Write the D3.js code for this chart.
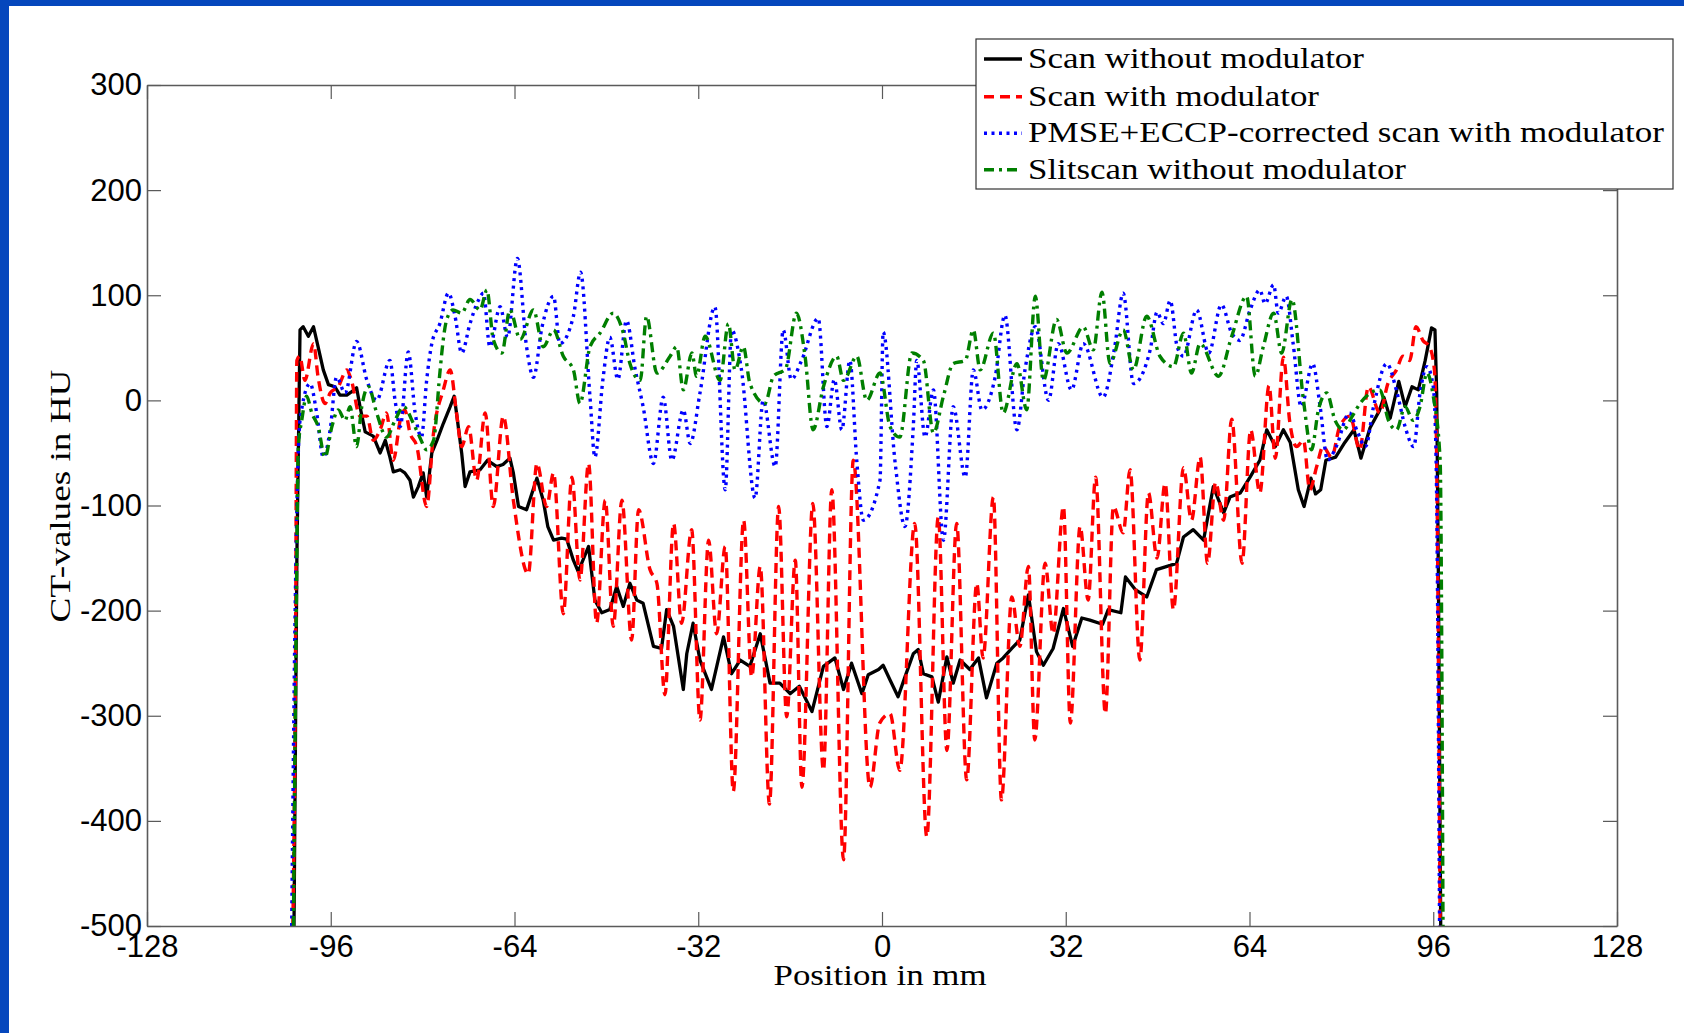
<!DOCTYPE html>
<html>
<head>
<meta charset="utf-8">
<script src="https://cdn.jsdelivr.net/npm/d3@7"></script>
<style>
html,body{margin:0;padding:0;background:#fff;}
svg{display:block;}
</style>
</head>
<body>
<svg id="chart" width="1684" height="1033"></svg>
<script>
// ---------------- DATA ----------------
const xTicks = [-128, -96, -64, -32, 0, 32, 64, 96, 128];
const yTicks = [300, 200, 100, 0, -100, -200, -300, -400, -500];
const seriesNames = ["Scan without modulator", "Scan with modulator", "PMSE+ECCP-corrected scan with modulator", "Slitscan without modulator"];

// [position mm, CT value HU]
const scanNoMod = [[-102.4,-500],[-101.9,-150],[-101.35,67],[-100.8,70],[-99.9,61],[-99.0,70],[-98.2,51],[-97.3,29],[-96.4,15],[-95.3,13],[-94.4,5],[-93.2,5],[-92.4,8],[-91.5,12],[-90.9,-6],[-90.0,-30],[-88.6,-34],[-87.4,-50],[-86.5,-38],[-85.7,-54],[-85.1,-68],[-83.9,-66],[-83.1,-69],[-82.2,-76],[-81.6,-92],[-80.75,-82],[-79.9,-69],[-79.3,-92],[-78.4,-50],[-77.5,-38],[-76.4,-22],[-75.2,-6],[-74.5,4],[-74.1,-12],[-73.2,-50],[-72.6,-82],[-71.75,-68],[-70.0,-66],[-68.7,-57],[-67.1,-63],[-66.0,-61],[-64.8,-55],[-64.2,-69],[-63.3,-101],[-61.9,-104],[-60.1,-74],[-59.0,-95],[-58.2,-120],[-57.2,-133],[-55.8,-131],[-54.9,-132],[-53.75,-152],[-52.9,-163],[-51.1,-139],[-50.0,-190],[-48.8,-202],[-47.4,-199],[-46.2,-177],[-45.05,-196],[-43.9,-174],[-42.7,-190],[-41.6,-193],[-39.8,-234],[-38.4,-236],[-37.5,-199],[-36.3,-215],[-34.6,-275],[-34.0,-241],[-32.9,-212],[-31.7,-247],[-29.7,-275],[-27.6,-225],[-26.2,-260],[-24.7,-247],[-23.0,-253],[-21.2,-222],[-19.5,-269],[-17.8,-269],[-16.0,-279],[-14.4,-272],[-12.2,-296],[-10.2,-253],[-8.2,-245],[-6.7,-275],[-5.3,-250],[-3.5,-279],[-2.4,-261],[-0.6,-256],[0.2,-252],[1.4,-266],[2.8,-282],[4.0,-263],[5.45,-241],[6.3,-237],[7.2,-260],[8.7,-263],[9.8,-287],[11.3,-244],[12.4,-269],[13.6,-247],[15.3,-256],[16.8,-245],[18.2,-283],[20.0,-250],[21.1,-245],[22.6,-236],[24.0,-228],[25.5,-185],[26.9,-239],[28.1,-252],[29.8,-236],[31.6,-198],[33.2,-234],[34.8,-207],[36.2,-209],[38.4,-213],[39.4,-199],[41.6,-202],[42.4,-168],[44.1,-180],[46.1,-187],[47.8,-161],[50.2,-157],[51.3,-155],[52.5,-130],[54.2,-123],[56.0,-133],[57.7,-82],[59.5,-107],[60.6,-92],[62.4,-88],[64.1,-73],[65.8,-57],[67.0,-28],[68.5,-44],[69.9,-28],[71.1,-40],[72.5,-85],[73.5,-101],[74.7,-74],[75.5,-89],[76.4,-85],[77.3,-57],[79.0,-54],[80.6,-40],[82.2,-28],[83.4,-55],[85.0,-26],[86.6,-10],[87.4,3],[88.5,-17],[90.0,18],[91.1,-6],[92.3,13],[93.4,10],[94.6,38],[95.7,69],[96.3,67],[96.6,7],[96.9,-170],[97.3,-500]];

const scanMod = [[-102.6,-500],[-102.1,-200],[-101.9,38],[-101.4,42],[-100.5,19],[-99.0,54],[-98.2,22],[-97.0,-3],[-96.1,7],[-94.7,13],[-93.2,29],[-92.4,19],[-90.9,-15],[-89.7,-15],[-88.6,-38],[-87.4,-28],[-86.3,-12],[-85.1,-57],[-83.9,-19],[-83.1,-9],[-82.2,-31],[-81.0,-44],[-79.3,-101],[-78.1,-31],[-76.4,10],[-75.2,29],[-74.1,-12],[-73.2,-44],[-72.0,-25],[-70.6,-76],[-69.1,-12],[-67.7,-101],[-65.95,-15],[-64.2,-95],[-61.6,-165],[-60.1,-60],[-58.4,-101],[-57.2,-69],[-55.5,-203],[-54.0,-73],[-52.6,-171],[-51.1,-60],[-49.7,-212],[-48.2,-95],[-46.8,-215],[-45.3,-95],[-43.6,-228],[-42.4,-104],[-40.4,-161],[-39.2,-174],[-37.8,-280],[-36.3,-117],[-34.9,-212],[-33.15,-123],[-31.7,-304],[-30.2,-133],[-28.8,-222],[-27.3,-139],[-25.9,-372],[-24.1,-114],[-22.7,-263],[-21.2,-158],[-19.6,-384],[-18.0,-101],[-16.6,-301],[-15.1,-152],[-13.95,-368],[-12.05,-98],[-10.2,-352],[-8.75,-85],[-6.7,-437],[-5.0,-57],[-2.1,-368],[-0.4,-307],[1.4,-298],[3.1,-352],[5.7,-117],[7.8,-415],[9.8,-111],[11.3,-333],[13.0,-117],[14.75,-361],[16.5,-174],[17.6,-245],[19.4,-92],[20.8,-380],[22.6,-187],[24.0,-234],[25.5,-158],[26.6,-323],[28.4,-155],[29.8,-222],[31.6,-101],[32.8,-307],[34.5,-120],[35.9,-190],[37.2,-73],[38.9,-298],[40.3,-101],[42.0,-126],[43.2,-66],[44.9,-247],[46.4,-88],[47.9,-150],[49.3,-79],[50.75,-199],[52.5,-64],[53.9,-114],[55.4,-54],[56.7,-155],[58.1,-78],[59.5,-114],[60.9,-18],[62.7,-155],[64.2,-28],[65.8,-88],[67.4,14],[68.5,-55],[69.9,41],[71.0,-20],[72.2,-44],[73.4,-38],[74.5,-85],[75.7,-63],[76.8,-44],[78.3,-54],[79.7,-25],[81.5,-15],[83.2,-47],[84.7,13],[86.7,-12],[88.1,16],[89.6,29],[90.7,42],[91.9,38],[93.0,70],[94.2,57],[95.35,51],[96.2,29],[96.6,-57],[97.2,-500]];

const pmseCorrected = [[-102.8,-500],[-102.2,-200],[-101.35,-19],[-99.6,16],[-98.45,-12],[-97.3,-54],[-96.1,-28],[-95.0,22],[-93.5,7],[-91.5,56],[-89.7,19],[-88.0,0],[-85.7,38],[-84.8,0],[-83.9,-25],[-82.5,46],[-81.3,-12],[-80.2,-35],[-79.3,19],[-78.4,54],[-77.0,73],[-75.5,102],[-74.35,80],[-73.2,45],[-71.75,73],[-70.3,95],[-69.4,102],[-68.3,51],[-66.5,89],[-65.2,60],[-63.5,135],[-61.9,51],[-60.7,22],[-59.2,70],[-57.2,99],[-56.1,54],[-53.75,80],[-52.5,122],[-50.85,3],[-50.0,-54],[-48.6,20],[-47.4,60],[-46.0,20],[-44.5,76],[-43.0,30],[-41.6,-6],[-39.8,-60],[-38.1,3],[-36.6,-57],[-34.6,-9],[-33.4,-41],[-31.7,7],[-29.1,89],[-27.3,-85],[-26.2,67],[-24.5,30],[-22.1,-93],[-20.7,0],[-18.6,-63],[-17.2,67],[-15.8,20],[-14.0,38],[-11.1,78],[-9.6,-25],[-8.3,20],[-7.0,-28],[-5.6,38],[-4.4,-57],[-3.25,-114],[-0.35,-76],[0.2,65],[2.3,-60],[4.0,-120],[5.45,-25],[6.05,38],[7.5,-35],[8.95,10],[10.7,-133],[12.4,-6],[14.5,-73],[15.9,29],[17.4,-9],[19.7,22],[21.4,81],[23.5,-28],[24.9,29],[26.7,70],[29.0,0],[30.7,54],[33.0,10],[35.05,54],[38.5,3],[40.5,50],[42.0,102],[43.8,16],[46.7,48],[47.9,84],[49.0,73],[50.2,95],[51.4,51],[52.5,42],[54.8,86],[56.9,45],[59.1,91],[60.9,64],[62.3,57],[64.1,86],[65.8,105],[66.7,92],[68.2,110],[69.0,83],[70.4,99],[71.6,54],[73.0,-6],[75.0,35],[76.3,-6],[77.6,-57],[79.1,-44],[81.4,-12],[82.8,-30],[84.2,-44],[85.6,-6],[87.9,35],[89.7,7],[91.1,-25],[92.6,-44],[93.7,7],[94.9,32],[96.0,13],[96.5,-57],[97.1,-500]];

const slitscan = [[-102.5,-500],[-102.0,-200],[-101.65,-44],[-101.05,-19],[-100.2,4],[-99.3,-12],[-98.2,-25],[-97.0,-54],[-95.8,-25],[-94.7,-9],[-93.5,-19],[-92.65,-6],[-91.5,-44],[-90.6,-6],[-89.45,13],[-88.0,-12],[-86.3,-35],[-84.8,-19],[-83.35,-6],[-81.6,-22],[-80.5,-35],[-79.3,-47],[-78.1,-38],[-77.0,26],[-76.4,58],[-75.8,77],[-74.7,86],[-73.2,83],[-71.75,96],[-70.0,86],[-68.8,105],[-67.7,58],[-66.2,45],[-64.8,86],[-63.0,58],[-60.7,86],[-59.0,51],[-57.2,67],[-55.5,42],[-53.75,29],[-52.6,-3],[-50.85,51],[-49.1,64],[-46.8,83],[-45.05,64],[-43.9,35],[-42.1,19],[-41.0,80],[-39.2,26],[-36.9,42],[-35.75,51],[-34.6,10],[-33.1,45],[-32.3,23],[-30.8,61],[-28.2,19],[-26.75,73],[-25.6,29],[-24.15,51],[-23.0,16],[-20.4,-3],[-18.9,23],[-16.8,30],[-14.9,83],[-13.4,42],[-12.0,-28],[-10.2,13],[-7.9,42],[-6.7,19],[-4.4,42],[-2.65,0],[-0.35,26],[1.4,-25],[3.1,-35],[5.2,45],[7.2,38],[8.95,-31],[10.7,4],[12.4,35],[14.5,38],[15.9,67],[17.1,29],[19.4,64],[21.1,-12],[23.5,35],[25.2,-9],[26.7,99],[28.1,19],[30.4,77],[32.2,45],[35.05,70],[36.8,48],[38.3,103],[39.7,35],[42.0,67],[43.8,29],[46.1,80],[48.4,42],[50.75,32],[52.5,64],[53.9,26],[55.4,54],[58.6,23],[60.9,61],[63.5,99],[65.0,23],[66.4,51],[68.2,83],[69.6,45],[71.4,96],[73.4,0],[74.8,-47],[76.0,-9],[77.45,7],[78.9,-19],[80.4,-28],[81.8,-16],[83.25,-3],[86.7,10],[88.2,-19],[89.6,-28],[91.1,-6],[92.5,-19],[93.7,-6],[94.9,26],[96.0,4],[97.2,-57],[97.7,-500]];

// ---------------- DRAW ----------------
const svg = d3.select("#chart");
const W = 1684, H = 1033;
const L = 147, R = 1617, T = 85, B = 926;

svg.append("rect").attr("x",0).attr("y",0).attr("width",W).attr("height",H).attr("fill","#fff");
// blue frame
svg.append("rect").attr("x",0).attr("y",0).attr("width",W).attr("height",6).attr("fill","#0547bd");
svg.append("rect").attr("x",0).attr("y",0).attr("width",9).attr("height",H).attr("fill","#0547bd");

const x = d3.scaleLinear().domain([-128,128]).range([L,R]);
const y = d3.scaleLinear().domain([-500,300]).range([B,T]);

svg.append("defs").append("clipPath").attr("id","plotclip")
  .append("rect").attr("x",L).attr("y",T).attr("width",R-L).attr("height",B-T);

const styles = [
  {data: scanNoMod, color:"#000000", dash:null, width:3.3, curve:d3.curveLinear},
  {data: scanMod, color:"#ff0000", dash:"10,6", width:3.4, curve:d3.curveMonotoneX},
  {data: pmseCorrected, color:"#0000ff", dash:"3,4.5", width:3.4, curve:d3.curveMonotoneX},
  {data: slitscan, color:"#007f00", dash:"10,5,3,5", width:3.4, curve:d3.curveMonotoneX}
];

const gLines = svg.append("g").attr("clip-path","url(#plotclip)");
styles.forEach(s=>{
  const line = d3.line().x(d=>x(d[0])).y(d=>y(d[1])).curve(s.curve);
  gLines.append("path").datum(s.data)
    .attr("d", line)
    .attr("fill","none")
    .attr("stroke", s.color)
    .attr("stroke-width", s.width)
    .attr("stroke-linejoin","round")
    .attr("stroke-dasharray", s.dash);
});

// axes
const axisColor = "#5a5a5a";
const fmt = d => String(d);
const gx = svg.append("g").attr("transform",`translate(0,${B})`)
  .call(d3.axisBottom(x).tickValues(xTicks).tickSize(-14).tickSizeOuter(0).tickPadding(9).tickFormat(fmt));
const gxt = svg.append("g").attr("transform",`translate(0,${T})`)
  .call(d3.axisTop(x).tickValues(xTicks).tickSize(-14).tickSizeOuter(0).tickFormat(""));
const gy = svg.append("g").attr("transform",`translate(${L},0)`)
  .call(d3.axisLeft(y).tickValues(yTicks).tickSize(-14).tickSizeOuter(0).tickPadding(5).tickFormat(fmt));
const gyr = svg.append("g").attr("transform",`translate(${R},0)`)
  .call(d3.axisRight(y).tickValues(yTicks).tickSize(-14).tickSizeOuter(0).tickFormat(""));

[gx,gxt,gy,gyr].forEach(g=>{
  g.selectAll(".domain").attr("stroke",axisColor).attr("stroke-width",1.6);
  g.selectAll(".tick line").attr("stroke",axisColor).attr("stroke-width",1.2);
  g.selectAll(".tick text").attr("fill","#000")
    .style("font-family","'Liberation Sans', Arial, Helvetica, sans-serif")
    .style("font-size","31px");
});

// axis labels
svg.append("text")
  .attr("x", 880).attr("y", 985)
  .attr("text-anchor","middle")
  .attr("textLength", 213).attr("lengthAdjust","spacingAndGlyphs")
  .style("font-family","'Liberation Serif','Times New Roman',serif")
  .style("font-size","29px")
  .text("Position in mm");

svg.append("text")
  .attr("transform","translate(70,496) rotate(-90)")
  .attr("text-anchor","middle")
  .attr("textLength", 253).attr("lengthAdjust","spacingAndGlyphs")
  .style("font-family","'Liberation Serif','Times New Roman',serif")
  .style("font-size","30px")
  .text("CT-values in HU");

// legend
const lg = svg.append("g");
lg.append("rect").attr("x",976).attr("y",39).attr("width",697).attr("height",150)
  .attr("fill","#fff").attr("stroke","#333").attr("stroke-width",1.2);
const legY = [59, 96.7, 133.2, 169.7];
const legLen = [336, 291, 636, 378];
styles.forEach((s,i)=>{
  lg.append("line").attr("x1",984).attr("x2",1022).attr("y1",legY[i]).attr("y2",legY[i])
    .attr("stroke",s.color).attr("stroke-width",s.width).attr("stroke-dasharray",s.dash);
  lg.append("text").attr("x",1028).attr("y",legY[i]+9)
    .attr("textLength", legLen[i]).attr("lengthAdjust","spacingAndGlyphs")
    .style("font-family","'Liberation Serif','Times New Roman',serif")
    .style("font-size","30px")
    .text(seriesNames[i]);
});
</script>
</body>
</html>
